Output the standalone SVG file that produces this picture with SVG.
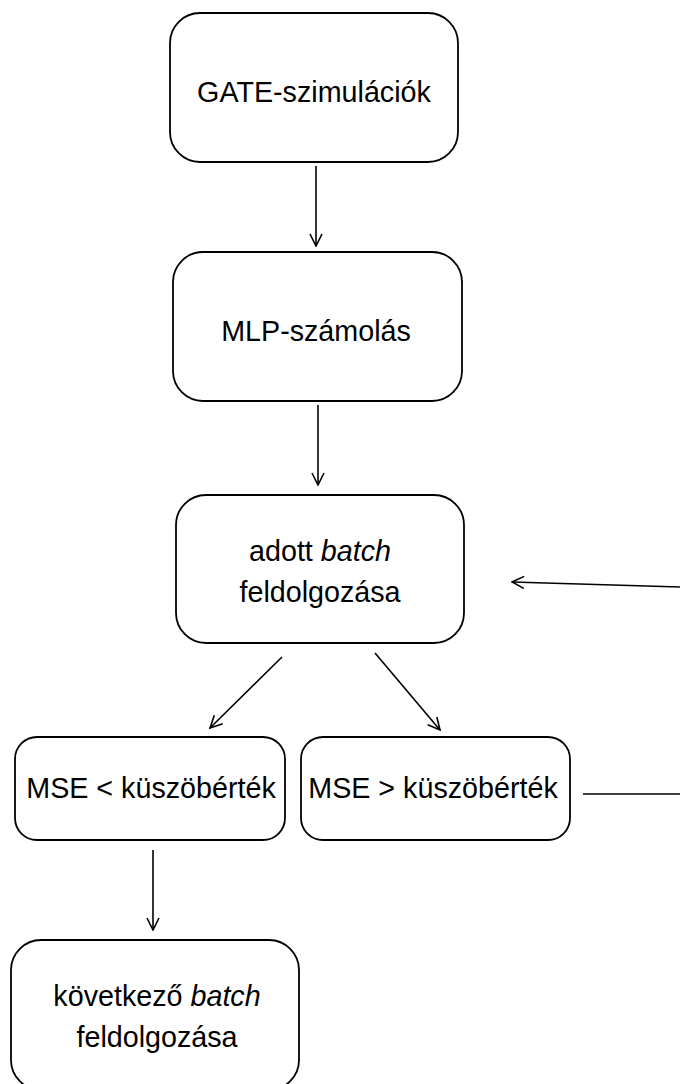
<svg xmlns="http://www.w3.org/2000/svg" width="680" height="1084" viewBox="0 0 680 1084">
<defs>
<marker id="arr" markerUnits="userSpaceOnUse" markerWidth="14" markerHeight="14" viewBox="0 0 14 14" refX="13" refY="7" orient="auto">
<path d="M1,1 L13,7 L1,13" fill="none" stroke="#000" stroke-width="1.6"/>
</marker>
<style>
.box{fill:#fff;stroke:#000;stroke-width:1.8}
.t{font-family:"Liberation Sans",Arial,sans-serif;font-size:28.7px;fill:#000;text-anchor:middle}
.c{stroke:#000;stroke-width:1.6;fill:none}
</style>
</defs>
<rect width="680" height="1084" fill="#fff"/>
<g id="node-gate">
<rect class="box" x="170" y="13" width="288" height="149" rx="30"/>
<text class="t" x="314" y="102">GATE-szimulációk</text>
</g>
<g id="node-mlp">
<rect class="box" x="173" y="252" width="289" height="149" rx="30"/>
<text class="t" x="316" y="341">MLP-számolás</text>
</g>
<g id="node-batch">
<rect class="box" x="176" y="495" width="288" height="148" rx="30"/>
<text class="t" x="320" y="561">adott <tspan font-style="italic">batch</tspan></text>
<text class="t" x="320" y="602">feldolgozása</text>
</g>
<g id="node-mse-lt">
<rect class="box" x="15" y="737" width="270" height="103" rx="22"/>
<text class="t" x="151" y="798">MSE &lt; küszöbérték</text>
</g>
<g id="node-mse-gt">
<rect class="box" x="301" y="737" width="269" height="103" rx="22"/>
<text class="t" x="433" y="798">MSE &gt; küszöbérték</text>
</g>
<g id="node-next">
<rect class="box" x="11" y="940" width="288" height="150" rx="30"/>
<text class="t" x="157" y="1006">következő <tspan font-style="italic">batch</tspan></text>
<text class="t" x="157" y="1047">feldolgozása</text>
</g>
<g id="connectors">
<line class="c" x1="316" y1="166" x2="316" y2="246" marker-end="url(#arr)"/>
<line class="c" x1="318" y1="405" x2="318" y2="485" marker-end="url(#arr)"/>
<line class="c" x1="282" y1="657" x2="210" y2="728" marker-end="url(#arr)"/>
<line class="c" x1="375" y1="653" x2="440" y2="730" marker-end="url(#arr)"/>
<line class="c" x1="153" y1="850" x2="153" y2="930" marker-end="url(#arr)"/>
<line class="c" x1="583" y1="794" x2="680" y2="794"/>
<line class="c" x1="680" y1="587" x2="512" y2="582" marker-end="url(#arr)"/>
</g>
</svg>
